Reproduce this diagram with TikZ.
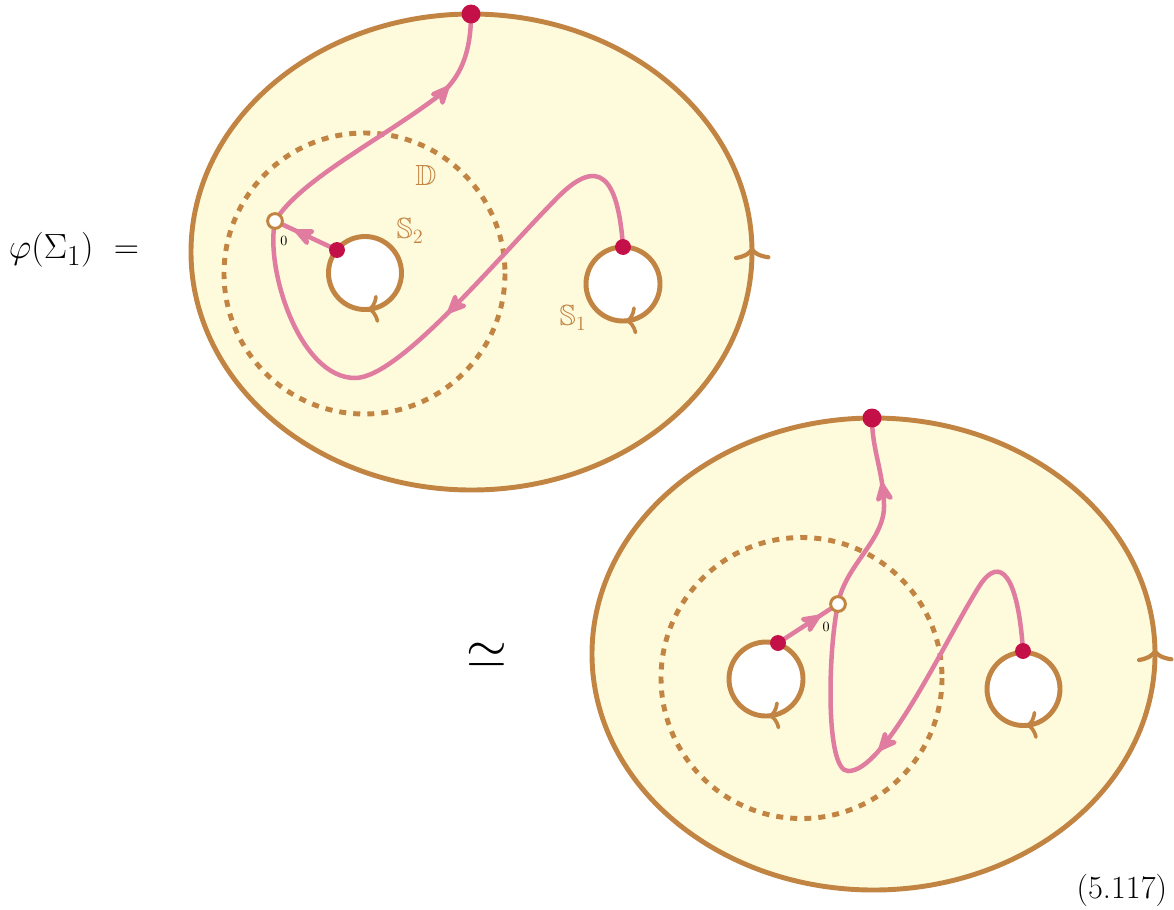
\documentclass[tikz,border=0pt]{standalone}
\usepackage{amsmath,amssymb}
\usepackage{xcolor}
\usepackage{graphicx}
\usepackage{tikz}
\usetikzlibrary{arrows.meta,decorations.markings,backgrounds}

\definecolor{surfyellow}{HTML}{FEFADC}
\definecolor{rimbrown}{HTML}{C28442}
\definecolor{strandpink}{HTML}{E07CA0}
\definecolor{punctred}{HTML}{C41048}

\tikzset{
  boundary/.style={draw=rimbrown,line width=3.5pt},
  strand/.style={draw=strandpink,line width=3.2pt,line cap=round},
  midtip/.style={postaction={decorate,decoration={markings,
    mark=at position #1 with {\arrow{Stealth[length=18pt,width=16pt,inset=5.5pt,round]}}}}},
  holetip/.style={postaction={decorate,decoration={markings,
    mark=at position #1 with {\arrow{Computer Modern Rightarrow[length=8pt,width=20pt,line width=2.6pt]}}}}},
  outertip/.style={postaction={decorate,decoration={markings,
    mark=at position #1 with {\arrowreversed{Computer Modern Rightarrow[length=9pt,width=26pt,line width=3pt]}}}}},
  reddot/.style={circle,fill=punctred,inner sep=0pt,minimum size=#1},
  basept/.style={circle,draw=rimbrown,fill=white,line width=2.1pt,inner sep=0pt,minimum size=10.5pt},
  lbl/.style={text=rimbrown,font=\huge},
}

\begin{document}
\begin{tikzpicture}[x=0.025cm,y=-0.025cm]
\useasboundingbox (0,0) rectangle (1174,909);

% points on the upper surface
\node[reddot=13.5pt] (t1) at (471,14) {};
\node[reddot=11.3pt] (p2) at (337,250) {};
\node[reddot=11.3pt] (p1) at (623,247) {};
\node[basept] (o1) at (275,221) {};

% points on the lower surface
\node[reddot=13.5pt] (t2) at (872,418) {};
\node[reddot=11.3pt] (q2) at (778,643) {};
\node[reddot=11.3pt] (q1) at (1023,651) {};
\node[basept] (o2) at (838,604) {};

\begin{pgfonlayer}{background}
% upper surface
\fill[surfyellow] (471.5,252) ellipse [x radius=280.5,y radius=238];
\draw[boundary,outertip=0.997] (471.5,252) ellipse [x radius=280.5,y radius=238];
\draw[boundary,dash pattern=on 5pt off 5pt] (364.5,273.5) circle [radius=140.5];
\draw[boundary,fill=white,holetip=0.24] (365,273) circle [radius=36.5];
\draw[boundary,fill=white,holetip=0.24] (623,284) circle [radius=37];
\draw[strand,midtip=0.74] (o1.center) .. controls (300,180) and (380,140) .. (437,97)
  .. controls (462,78) and (471,50) .. (t1.center);
\draw[strand,midtip=0.48] (p1.center) .. controls (618,175) and (598,158) .. (560,195)
  .. controls (500,255) and (400,378) .. (355,378)
  .. controls (300,378) and (265,270) .. (o1.center);
\draw[strand,midtip=0.68] (p2.center) -- (o1.center);

% lower surface
\fill[surfyellow] (873.5,654) ellipse [x radius=281.5,y radius=236];
\draw[boundary,outertip=0.997] (873.5,654) ellipse [x radius=281.5,y radius=236];
\draw[boundary,dash pattern=on 5pt off 5pt] (801.5,678) circle [radius=140.5];
\draw[boundary,fill=white,holetip=0.24] (766,679) circle [radius=37];
\draw[boundary,fill=white,holetip=0.24] (1023.5,689) circle [radius=36.5];
\draw[strand,midtip=0.67] (o2.center) .. controls (845,565) and (885,540) .. (884,505)
  .. controls (883,470) and (872,450) .. (t2.center);
\draw[strand,midtip=0.59] (q1.center) .. controls (1018,575) and (1000,555) .. (980,585)
  .. controls (945,640) and (885,772) .. (848,771)
  .. controls (825,771) and (828,650) .. (o2.center);
\draw[strand,midtip=0.7] (q2.center) -- (o2.center);
\end{pgfonlayer}

% labels
\node[lbl] (dlbl) at (426,175) {$\mathbb{D}$};
\node[lbl] (s2lbl) at (410,231) {$\mathbb{S}_2$};
\node[lbl] (s1lbl) at (573,318) {$\mathbb{S}_1$};
\node (zero1) at (284,241) {$0$};
\node (zero2) at (826,627) {$0$};

\node[font=\Huge,anchor=west] (lhs) at (4,250) {$\varphi(\Sigma_1)\ =$};
\node (iso) at (487,655) {\scalebox{1.5}{\Huge$\simeq$}};
\node[font=\fontsize{23}{28}\selectfont,anchor=east] (eqno) at (1172,890) {(5.117)};
\end{tikzpicture}
\end{document}
